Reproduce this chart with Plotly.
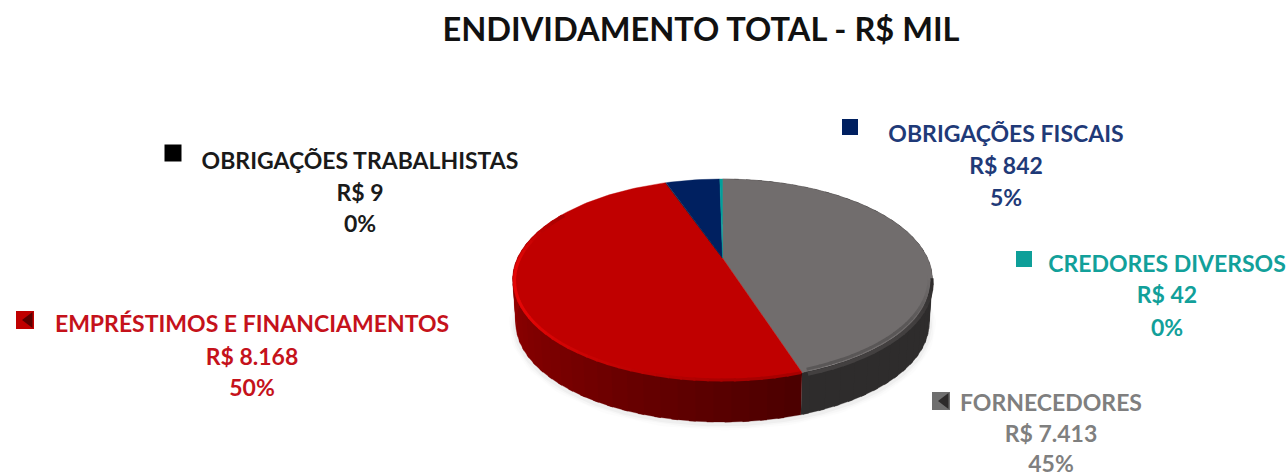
import numpy as np
import plotly.graph_objects as go

# ---- data ----
categories = ["FORNECEDORES", "EMPRÉSTIMOS E FINANCIAMENTOS", "OBRIGAÇÕES TRABALHISTAS",
              "OBRIGAÇÕES FISCAIS", "CREDORES DIVERSOS"]
values = [7413, 8168, 9, 842, 42]
value_labels = ["R$ 7.413", "R$ 8.168", "R$ 9", "R$ 842", "R$ 42"]
percent_labels = ["45%", "50%", "0%", "5%", "0%"]
title_text = "ENDIVIDAMENTO TOTAL - R$ MIL"

# ---- styles ----
top_colors = ["#716d6d", "#c00000", "#111111", "#002060", "#00a09a"]
text_colors = ["#7f7f7f", "#c5121b", "#1a1a1a", "#1f3a78", "#12a09a"]
swatch_colors = ["#6f6f6f", "#c00000", "#000000", "#002060", "#0e9f99"]
swatch_inner = ["#2d2b2b", "#5a0000", None, None, None]
FONT = "Lato, Carlito, Calibri, sans-serif"

# ---- layout positions (pixels of the axes) ----
label_x = [1051, 252, 360, 1006, 1167]
label_y = [[405, 436, 466], [326, 359, 390], [163, 195, 226], [136, 168, 200], [266, 297, 330]]
swatch_x = [941, 25, 173, 850, 1024]
swatch_y = [401, 320, 153, 127, 259]
swatch_size = [18, 18, 17, 16, 16]

CX, CY = 722.5, 258
A, B, K = 205, 95.9, 0.214
DEPTH_Y, DEPTH_S = 44, 0.985


def project(theta_deg, level=0.0, radius=1.0):
    """Perspective projection of a disc point: theta clockwise from 12 o'clock."""
    t = np.radians(theta_deg)
    u, v = radius * np.sin(t), radius * np.cos(t)
    s = 1 - (1 - DEPTH_S) * level
    d = 1 + K * v
    return CX + s * A * u / d, CY + DEPTH_Y * level - s * B * v / d


def mix(c1, c2, f):
    a = [int(c1[i:i + 2], 16) for i in (1, 3, 5)]
    b = [int(c2[i:i + 2], 16) for i in (1, 3, 5)]
    return "#%02x%02x%02x" % tuple(round(x + (y - x) * f) for x, y in zip(a, b))


fractions = np.array(values) / sum(values)
edges = np.concatenate([[0], np.cumsum(fractions) * 360])

fig = go.Figure()


def poly(xs, ys, color, line=0.6):
    fig.add_trace(go.Scatter(x=list(xs), y=list(ys), mode="lines", fill="toself", fillcolor=color,
                             line=dict(color=color, width=line), hoverinfo="skip", showlegend=False))


# soft shadow beneath the disc
arc = np.linspace(75, 290, 120)
for w, col in [(14, "rgba(0,0,0,0.012)"), (10, "rgba(0,0,0,0.02)"), (6, "rgba(0,0,0,0.03)")]:
    sx, sy = project(arc, 1.03)
    fig.add_trace(go.Scatter(x=sx, y=sy, mode="lines", line=dict(color=col, width=w),
                             hoverinfo="skip", showlegend=False))


def wall_color(i, th):
    if i == 0:
        return "#2e2c2c"
    f = np.clip((300 - th) / (300 - edges[1]), 0, 1)
    return mix("#a80000", "#7a0000", f / 0.55) if f < 0.55 else mix("#7a0000", "#4a0000", (f - 0.55) / 0.45)


# side wall: the strips overlap a little to hide seams
for i in range(2):
    lo, hi = edges[i], edges[i + 1]
    steps = np.arange(lo, min(hi, 300) + 0.01, 4.0)
    steps = np.append(steps, min(hi, 300))
    for a, b in zip(steps[:-1], steps[1:]):
        if b <= a:
            continue
        seg = np.linspace(a, min(b + 1.5, 300 if i else edges[1]), 4)
        x1, y1 = project(seg, 0)
        x2, y2 = project(seg[::-1], 1)
        poly(np.r_[x1, x2], np.r_[y1, y2], wall_color(i, (a + b) / 2), line=0.3)

# top face slices
for i in range(len(values)):
    seg = np.linspace(edges[i], edges[i + 1], max(3, int(fractions[i] * 240)))
    x, y = project(seg)
    poly(np.r_[CX, x, CX], np.r_[CY, y, CY], top_colors[i], line=0.4)

# bevel along the lower rim
rim = np.arange(edges[1], 300, 3.0)
for a, b in zip(rim[:-1], rim[1:]):
    seg = np.linspace(a, b + 0.5, 3)
    x, y = project(seg, 0.03, 0.992)
    f = np.clip((a - edges[1] - 15) / 60, 0, 1)
    g = np.clip((300 - b) / 30, 0, 1)
    fig.add_trace(go.Scatter(x=x, y=y, mode="lines", line=dict(color=mix("#a80000", "#e30606", f * g), width=3),
                             hoverinfo="skip", showlegend=False))
# grey bevel: soft passage from the top face to the dark wall
rim = np.arange(100, edges[1], 3.0)
for a, b in zip(rim[:-1], rim[1:]):
    seg = np.linspace(a, b + 0.5, 3)
    f = np.clip((a - 100) / 25, 0, 1)
    for width, c, lev in [(4, "#434040", 0.07), (3, "#5a5757", 0.0)]:
        x, y = project(seg, lev, 0.998 if lev else 0.985)
        col = mix("#716d6d" if not lev else "#2e2c2c", c, f)
        fig.add_trace(go.Scatter(x=x, y=y, mode="lines", line=dict(color=col, width=width),
                                 hoverinfo="skip", showlegend=False))

# legend keys and labels
for i, name in enumerate(categories):
    fig.add_trace(go.Scatter(x=[swatch_x[i]], y=[swatch_y[i]], mode="markers",
                             marker=dict(symbol="square", size=swatch_size[i], color=swatch_colors[i],
                                         line=dict(width=0)),
                             hoverinfo="skip", showlegend=False))
    if swatch_inner[i]:
        fig.add_trace(go.Scatter(x=[swatch_x[i] + 4], y=[swatch_y[i]], mode="markers",
                                 marker=dict(symbol="triangle-left", size=swatch_size[i] - 4,
                                             color=swatch_inner[i], line=dict(width=0)),
                                 hoverinfo="skip", showlegend=False))
    fig.add_trace(go.Scatter(x=[label_x[i]] * 3, y=label_y[i], mode="text",
                             text=[name, value_labels[i], percent_labels[i]],
                             textposition="middle center",
                             textfont=dict(family=FONT, size=23, color=text_colors[i], weight="bold"),
                             hoverinfo="skip", showlegend=False))

fig.update_layout(
    width=1288, height=476, margin=dict(l=0, r=0, t=0, b=0),
    paper_bgcolor="white", plot_bgcolor="white", showlegend=False,
    title=dict(text=title_text, x=701 / 1288, xanchor="center", y=1 - 30 / 476, yanchor="middle",
               font=dict(family=FONT, size=32.6, color="#111111", weight="bold")),
    xaxis=dict(range=[0, 1288], visible=False, fixedrange=True),
    yaxis=dict(range=[476, 0], visible=False, fixedrange=True),
)
fig.write_html("out.html", config={"displayModeBar": False},
               post_script="document.body.style.margin='0';document.body.style.overflow='hidden';")
